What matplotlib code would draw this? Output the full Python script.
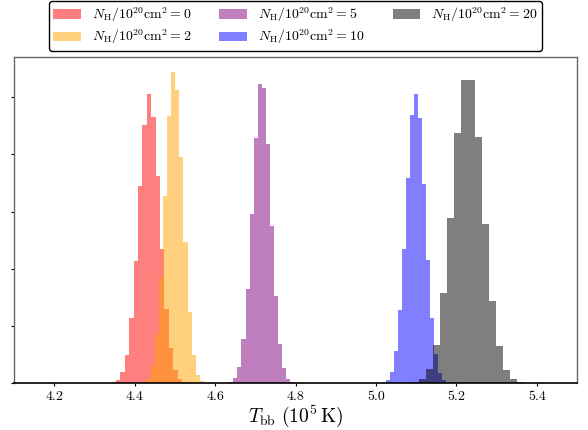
import numpy as np
import matplotlib
matplotlib.use("Agg")
import matplotlib.pyplot as plt
from matplotlib.patches import Patch

plt.rcParams['mathtext.fontset'] = 'cm'
plt.rcParams['font.family'] = 'serif'
plt.rcParams['font.serif'] = ['cmr10', 'DejaVu Serif']
plt.rcParams['axes.formatter.use_mathtext'] = True

# N_H values (10^20 cm^-2) and colours
nh_values = [0, 2, 5, 10, 20]
colors = ['red', 'orange', 'purple', 'blue', 'black']

# bin ranges (T_bb in 10^5 K) and bin counts
bin_ranges = [(4.3429, 4.5288), (4.4296, 4.5725), (4.6353, 4.7972),
              (5.0145, 5.1731), (5.0888, 5.3681)]
counts_0 = [5, 12, 40, 99, 228, 427, 691, 904, 1013, 932, 726, 468, 258, 122, 45, 14, 5]
counts_2 = [16, 64, 169, 371, 656, 935, 1087, 1024, 790, 493, 249, 99, 29, 7]
counts_5 = [5, 17, 56, 154, 328, 593, 859, 1047, 1033, 838, 548, 304, 136, 52, 14, 5]
counts_10 = [5, 12, 37, 112, 256, 468, 717, 939, 1010, 928, 695, 429, 228, 101, 35, 10]
counts_20 = [5, 14, 49, 133, 314, 579, 876, 1061, 1061, 862, 555, 286, 129, 45, 14, 3]
all_counts = [counts_0, counts_2, counts_5, counts_10, counts_20]

xticks = [4.2, 4.4, 4.6, 4.8, 5.0, 5.2, 5.4]

fig = plt.figure(figsize=(5.88, 4.30), dpi=100)
ax = fig.add_axes([14/588, 1 - 383/430, (577-14)/588, (383-57.3)/430])

handles = []
for nh, col, (lo, hi), cnt in zip(nh_values, colors, bin_ranges, all_counts):
    edges = np.linspace(lo, hi, len(cnt) + 1)
    centers = 0.5 * (edges[:-1] + edges[1:])
    ax.hist(centers, bins=edges, weights=cnt, color=col, alpha=0.5)
    handles.append(Patch(facecolor=col, alpha=0.5,
                         label=r'$N_{\rm H}/10^{20}{\rm cm}^2 = %d$' % nh))

ax.set_xlim(4.1, 5.5)
ax.set_ylim(0, 1140)
ax.set_xticks(xticks)
ax.set_xticklabels(['%.1f' % t for t in xticks])
ax.set_yticks([0, 200, 400, 600, 800, 1000])
ax.set_yticklabels([])
ax.tick_params(axis='both', direction='out', length=2.5, width=0.8, labelsize=10)
for s in ['top', 'left', 'right']:
    ax.spines[s].set_color('#666666')
    ax.spines[s].set_linewidth(1.0)
ax.spines['bottom'].set_color('black')
ax.spines['bottom'].set_linewidth(1.2)
ax.set_xlabel(r'$T_{\rm bb}\ (10^5\,{\rm K})$', fontsize=14, labelpad=0)

fig.legend(handles=handles, loc='upper center', bbox_to_anchor=(0.5026, 0.998),
           ncol=3, fontsize=10, frameon=True, fancybox=True, framealpha=1,
           edgecolor='black', columnspacing=2.0, handlelength=2.0,
           labelspacing=0.3, borderpad=0.3, borderaxespad=0.0)

fig.savefig('out.png', dpi=100)
